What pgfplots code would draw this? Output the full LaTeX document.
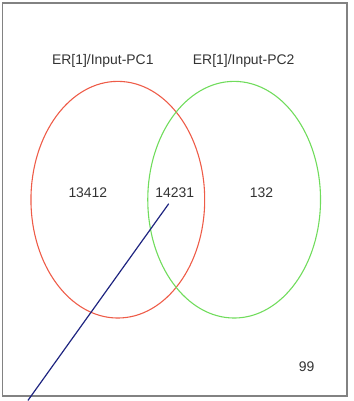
\documentclass[border=0pt]{standalone}
\usepackage{pgfplots}
\pgfplotsset{compat=1.18}
\usepackage{fontspec}
\setmainfont{Liberation Sans}
\definecolor{vred}{RGB}{238,92,72}
\definecolor{vgreen}{RGB}{112,220,92}
\definecolor{vblue}{RGB}{30,36,128}
\definecolor{vbox}{RGB}{130,130,130}
\begin{document}
\begin{tikzpicture}
\begin{axis}[
  width=354bp, height=401bp, scale only axis,
  xmin=0, xmax=354, ymin=0, ymax=401,
  hide axis, clip=false,
]
\path (axis cs:0,0) rectangle (axis cs:354,401);
% frame
\addplot[vbox, line width=1.4pt] coordinates {(2.5,4.5) (347.5,4.5) (347.5,398) (2.5,398) (2.5,4.5)};
% sets
\draw[vred, line width=1.1pt] (axis cs:118,201) ellipse [x radius=87, y radius=118.5];
\draw[vgreen, line width=1.1pt] (axis cs:234.5,201) ellipse [x radius=86.5, y radius=118.5];
% pointer line
\addplot[vblue, line width=1.2pt] coordinates {(169,197) (28,0)};
% labels
\node[font=\fontsize{14}{16}\selectfont, text=black!80] at (axis cs:103,340) {ER[1]/Input-PC1};
\node[font=\fontsize{14}{16}\selectfont, text=black!80] at (axis cs:244,340) {ER[1]/Input-PC2};
\node[font=\fontsize{14}{16}\selectfont, text=black!80] at (axis cs:88,208) {13412};
\node[font=\fontsize{14}{16}\selectfont, text=black!80] at (axis cs:175,208) {14231};
\node[font=\fontsize{14}{16}\selectfont, text=black!80] at (axis cs:262,208) {132};
\node[font=\fontsize{14}{16}\selectfont, text=black!80] at (axis cs:307,34) {99};
\end{axis}
\end{tikzpicture}
\end{document}
